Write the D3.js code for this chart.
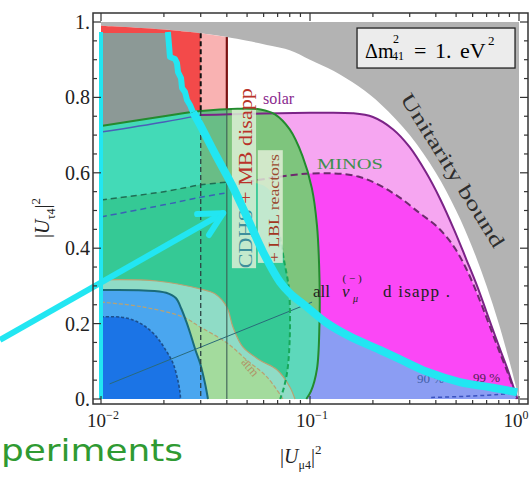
<!DOCTYPE html>
<html>
<head>
<meta charset="utf-8">
<script src="https://cdn.jsdelivr.net/npm/d3@7/dist/d3.min.js"></script>
<style>
  html,body{margin:0;padding:0;background:#fff;}
  svg{display:block;}
  text{font-family:"Liberation Serif","Times New Roman",serif;}
  text.caption{font-family:"DejaVu Sans",sans-serif;}
</style>
</head>
<body>
<svg id="chart" width="531" height="477"></svg>
<script>
// ---------- data: points are [|U_mu4|^2, |U_tau4|^2] ----------
const unitarityBound = [[0.01,0.99],[0.02,0.98],[0.03,0.97],[0.04,0.96],[0.05,0.95],[0.065,0.937],[0.08,0.925],[0.1,0.9],[0.13,0.87],[0.17,0.83],[0.22,0.78],[0.3,0.7],[0.4,0.6],[0.5,0.5],[0.6,0.4],[0.7,0.3],[0.8,0.2],[0.9,0.1],[0.95,0.05],[1,0]];
const greenEdge = [[0.01,0.724],[0.02,0.75],[0.03,0.764],[0.045,0.77],[0.058,0.768],[0.068,0.755],[0.08,0.715],[0.092,0.645],[0.102,0.56],[0.108,0.46],[0.111,0.32],[0.111,0.2],[0.108,0.08],[0.101,0.02],[0.096,0]];
const solarLeft = [[0.01,0.708],[0.02,0.735],[0.03,0.753]];
const solar = [[0.03,0.753],[0.1,0.759],[0.16,0.758],[0.2,0.748],[0.25,0.715],[0.3,0.668],[0.36,0.6],[0.42,0.53],[0.49,0.448],[0.56,0.37],[0.63,0.3],[0.7,0.23],[0.76,0.175],[0.82,0.125],[0.88,0.08],[0.93,0.04],[0.97,0.01],[0.985,0]];
const minos = [[0.05,0.576],[0.1,0.598],[0.17,0.59],[0.25,0.546],[0.335,0.493],[0.4,0.46],[0.45,0.43],[0.5,0.395],[0.56,0.345],[0.63,0.28],[0.7,0.215],[0.76,0.163],[0.82,0.115],[0.88,0.072],[0.93,0.035],[0.96,0.01],[0.975,0]];
const dashGreenLeft = [[0.01,0.528],[0.02,0.55],[0.03,0.568],[0.04,0.575]];
const dashBlueLeft = [[0.01,0.483],[0.02,0.515],[0.03,0.535],[0.039,0.546]];
const tealUpperRight = [[0.05,0.576],[0.06,0.566],[0.067,0.54],[0.071,0.49],[0.072,0.43]];
const dashGreenRight = [[0.072,0.43],[0.075,0.37],[0.079,0.3],[0.08,0.255],[0.08,0.16],[0.078,0.077],[0.075,0.03],[0.072,0]];
const atmUpper = [[0.01,0.316],[0.0185,0.313],[0.0298,0.292],[0.0351,0.279],[0.04,0.244],[0.0428,0.191],[0.0477,0.138],[0.0576,0.103],[0.0697,0.077],[0.0801,0.032],[0.0847,0]];
const atmLower = [[0.01,0.257],[0.0155,0.245],[0.0246,0.218],[0.0298,0.191],[0.04,0.149],[0.0499,0.103],[0.0623,0.058],[0.0743,0]];
const blue99 = [[0.01,0.289],[0.016,0.288],[0.0205,0.282],[0.0228,0.268],[0.0242,0.24],[0.0256,0.205],[0.0267,0.175],[0.0283,0.13],[0.0298,0.095],[0.0315,0.04],[0.0325,0]];
const blue90 = [[0.01,0.218],[0.0125,0.217],[0.0145,0.208],[0.0165,0.19],[0.0185,0.164],[0.0205,0.128],[0.0221,0.095],[0.0232,0.055],[0.0239,0.016],[0.024,0]];
const appJagged = [[0.0209,0.9735],[0.02115,0.939],[0.02138,0.907],[0.0226,0.902],[0.0231,0.891],[0.02336,0.867],[0.02415,0.851],[0.02442,0.825],[0.02524,0.814],[0.0258,0.793],[0.02665,0.78],[0.02756,0.761]];
const appCurve = [[0.02756,0.761],[0.0298,0.727],[0.0358,0.642],[0.0428,0.562],[0.0499,0.483],[0.0596,0.39],[0.0719,0.31],[0.08,0.281],[0.0966,0.244],[0.12,0.202],[0.155,0.166],[0.216,0.13],[0.27,0.105],[0.363,0.072],[0.521,0.045],[0.75,0.03],[0.98,0.018]];
const cdhsDashed = 0.03, cdhsSolid = 0.04;
const thinDiagonal = [[0.011,0.04],[0.1023,0.257]];
const cl90Bottom = [[0.38,0.004],[0.6,0.008],[0.8,0.012],[0.95,0.016]];
const arrowFrom = [0.003286,0.1565], arrowTo = [0.0384,0.493];

const yMajor = [0,0.2,0.4,0.6,0.8,1];
const yTickLabels = ["0.","0.2","0.4","0.6","0.8","1."];
const yMinor = [0.05,0.1,0.15,0.25,0.3,0.35,0.45,0.5,0.55,0.65,0.7,0.75,0.85,0.9,0.95];
const xMajor = [0.01,0.1,1];
const xTickLabels = [["10","\u22122"],["10","\u22121"],["10","0"]];
const xMinor = [0.02,0.03,0.04,0.05,0.06,0.07,0.08,0.09,0.2,0.3,0.4,0.5,0.6,0.7,0.8,0.9];

// ---------- scales ----------
const svg = d3.select("#chart");
const x = d3.scaleLog().domain([0.01,1]).range([101,519]);
const y = d3.scaleLinear().domain([0,1]).range([399,22]);
const CR = d3.curveCatmullRom;

function shape(parts){
  let d = "";
  parts.forEach((p,i)=>{
    const gen = d3.line().x(q=>x(q[0])).y(q=>y(q[1])).curve(p.c || d3.curveLinear);
    let s = gen(p.pts).replace(/Z$/,"");
    if (i>0) s = "L" + s.slice(1);
    d += s;
  });
  return d + "Z";
}
function area(parts, fill, op){
  svg.append("path").attr("d", shape(parts)).attr("fill", fill).attr("opacity", op==null?1:op);
}
function line(pts, stroke, w, dash, curve){
  svg.append("path")
    .attr("d", d3.line().x(q=>x(q[0])).y(q=>y(q[1])).curve(curve||d3.curveLinear)(pts))
    .attr("fill","none").attr("stroke",stroke).attr("stroke-width",w)
    .attr("stroke-dasharray",dash||null).attr("stroke-linejoin","round").attr("stroke-linecap","butt");
}
const rev = a => a.slice().reverse();

// ---------- filled regions ----------
// unitarity-excluded corner
area([{pts:[[0.01,1],[1,1]]},{pts:rev(unitarityBound),c:CR}], "#b3b3b3");
// solar and MINOS / all numu disappearance
area([{pts:solar,c:CR},{pts:[[0.03,0]]}], "#f6a6f1");
area([{pts:minos,c:CR},{pts:[[0.05,0]]}], "#fb47f6");
const appRight = appCurve.filter(p=>p[0]>=0.0966);
area([{pts:appRight,c:CR},{pts:[[0.98,0],[0.0966,0]]}], "#8b9df3");
// CDHS + MB disappearance strip
area([{pts:unitarityBound.slice(0,3),c:CR},{pts:[[0.03,0.764],[0.02,0.75],[0.01,0.724]]}], "#f34a4a");
area([{pts:unitarityBound.slice(2,4)},{pts:[[0.04,0.77],[0.03,0.764]]}], "#f9b2b2");
area([{pts:[[0.01,0.971],[0.0209,0.971]]},{pts:appJagged.slice(1)},{pts:[[0.02,0.75],[0.01,0.724]]}], "#8c9996");
// global fit regions
area([{pts:greenEdge,c:CR},{pts:[[0.01,0]]}], "#7ec57d");
area([{pts:[[0.03,0.764],[0.04,0.77],[0.04,0.575],[0.03,0.568]]}], "#69bd86");
area([{pts:greenEdge.slice(0,3),c:CR},{pts:rev(dashGreenLeft.slice(0,3)),c:CR}], "#43dab7");
area([{pts:dashGreenLeft,c:CR},{pts:tealUpperRight,c:CR},{pts:dashGreenRight.slice(1),c:CR},{pts:[[0.01,0]]}], "#35c995");
area([{pts:[[0.0775,0.29],[0.08,0.281],[0.0966,0.244],[0.111,0.22],[0.111,0.2],[0.108,0.08],[0.101,0.02],[0.096,0],[0.072,0],[0.075,0.03],[0.078,0.077],[0.08,0.16],[0.08,0.255]]}], "#5dd8bb");
// atmospheric regions
area([{pts:atmUpper,c:CR},{pts:[[0.01,0]]}], "#8fdcc6");
area([{pts:atmLower,c:CR},{pts:[[0.01,0]]}], "#a3db9d");
area([{pts:blue99,c:CR},{pts:[[0.01,0]]}], "#4aa6ef");
area([{pts:blue90,c:CR},{pts:[[0.01,0]]}], "#1b74e6");

// ---------- contour lines ----------
line(atmUpper, "#b9a272", 1.2, null, CR);
line(atmLower, "#b9a272", 1.2, "4,2", CR);
line(blue99, "#1b6b79", 2, null, CR);
line(blue90, "#1d4f8c", 1.6, "3,2", CR);
line(thinDiagonal, "#2a6a7a", 1);
line(dashGreenLeft, "#1f6e55", 1.5, "6,4", CR);
line(dashBlueLeft, "#3a62b5", 1.5, "6,4", CR);
line(dashGreenRight, "#17a85a", 2, "5,3", CR);
line(solarLeft, "#4a5fb8", 1.5, null, CR);
line(solar, "#7b2387", 2, null, CR);
line(minos, "#6e2a6e", 2, "7,4", CR);
line(greenEdge, "#238b2e", 2, null, CR);
line(cl90Bottom, "#3a52c0", 1.5, "4,3", CR);
line([[cdhsDashed,0.97],[cdhsDashed,0.764]], "#111", 2, "5,3");
line([[cdhsDashed,0.764],[cdhsDashed,0]], "#2c4444", 1.3, "5,3");
line([[cdhsSolid,0.96],[cdhsSolid,0.77]], "#7a1212", 2.2);
line([[cdhsSolid,0.77],[cdhsSolid,0]], "#3d5d55", 1.1);

// ---------- in-plot labels ----------
function rotLabel(u, v, angle, parts, size, anchor, extra){
  const t = svg.append("text")
    .attr("transform", `translate(${x(u)},${y(v)}) rotate(${angle})`)
    .attr("font-size", size).attr("text-anchor", anchor||"start");
  if (extra) extra(t);
  parts.forEach(p=>t.append("tspan").attr("fill",p[1]).text(p[0]));
  return t;
}
// text boxes behind the rotated labels
svg.append("rect").attr("x",x(0.0423)).attr("y",y(0.767)).attr("width",x(0.0552)-x(0.0423)).attr("height",y(0.347)-y(0.767)).attr("fill","#dcefd6").attr("opacity",0.85);
svg.append("rect").attr("x",x(0.0563)).attr("y",y(0.66)).attr("width",x(0.0741)-x(0.0563)).attr("height",y(0.361)-y(0.66)).attr("fill","#e6f0dc").attr("opacity",0.8);
rotLabel(0.0528, 0.347, -90, [["CDHS","#3f8f9c"],["  + MB disapp","#b9332a"]], 18, "start", t=>t.attr("textLength",180).attr("lengthAdjust","spacingAndGlyphs"));
rotLabel(0.0711, 0.363, -90, [["+ LBL  ","#a1361f"],["reactors","#9a4a30"]], 14, "start", t=>t.attr("textLength",108).attr("lengthAdjust","spacingAndGlyphs"));
rotLabel(0.0596, 0.782, 0, [["solar","#8a2a8e"]], 16);
rotLabel(0.108, 0.61, 0, [["MINOS","#3f8f4f"]], 15, "start", t=>t.attr("textLength",66).attr("lengthAdjust","spacingAndGlyphs"));
rotLabel(0.0499, 0.077, 50, [["atm","#b09468"]], 13, "middle");
rotLabel(0.483, 0.607, 58, [["Unitarity bound","#2e2e2e"]], 20, "middle", t=>t.attr("dominant-baseline","central").attr("textLength",178).attr("lengthAdjust","spacingAndGlyphs"));
rotLabel(0.325, 0.042, 0, [["90 %","#3f5fa8"]], 13);
rotLabel(0.602, 0.045, 0, [["99 %","#502050"]], 13);

// all (anti)numu disappearance label
const g = svg.append("g").attr("transform",`translate(${x(0.1034)},${y(0.2706)})`).attr("fill","#222");
g.append("text").attr("x",0).attr("y",0).attr("font-size",17).text("all");
g.append("text").attr("x",29).attr("y",0).attr("font-size",17).attr("font-style","italic").text("\u03bd");
g.append("text").attr("x",39).attr("y",-15).attr("font-size",11).attr("text-anchor","middle").text("( \u2212 )");
g.append("text").attr("x",40).attr("y",5).attr("font-size",10).attr("font-style","italic").text("\u03bc");
g.append("text").attr("x",70).attr("y",0).attr("font-size",17).attr("textLength",67).attr("lengthAdjust","spacing").text("d isapp .");

// mass splitting box
const bx = svg.append("g").attr("transform",`translate(${x(0.1679)},${y(0.984)})`);
bx.append("rect").attr("width",158).attr("height",40).attr("fill","#ececec").attr("stroke","#222").attr("stroke-width",1.3);
bx.append("text").attr("x",8).attr("y",30).attr("font-size",20).text("\u0394m");
bx.append("text").attr("x",36).attr("y",15).attr("font-size",12).text("2");
bx.append("text").attr("x",35).attr("y",32).attr("font-size",12).text("41");
bx.append("text").attr("x",57).attr("y",30).attr("font-size",22).text("=");
bx.append("text").attr("x",78).attr("y",30).attr("font-size",22).text("1.");
bx.append("text").attr("x",103).attr("y",30).attr("font-size",22).text("eV");
bx.append("text").attr("x",131).attr("y",17).attr("font-size",13).text("2");

// ---------- appearance annotation (cyan) ----------
const cyan = "#22e6f2";
line([[0.01,0.9735],[0.01,0.0]], cyan, 4);
line(appJagged, cyan, 6, null, d3.curveLinear);
line(appCurve, cyan, 8, null, CR);
const ax0 = x(arrowFrom[0]), ay0 = y(arrowFrom[1]), ax1 = x(arrowTo[0]), ay1 = y(arrowTo[1]);
svg.append("line").attr("x1",ax0).attr("y1",ay0).attr("x2",ax1).attr("y2",ay1).attr("stroke",cyan).attr("stroke-width",6);
const ang = Math.atan2(ay0-ay1, ax0-ax1), wl = 26, spread = 0.48;
[ang+spread, ang-spread].forEach(a=>{
  svg.append("line").attr("x1",ax1).attr("y1",ay1)
    .attr("x2",ax1+wl*Math.cos(a)).attr("y2",ay1+wl*Math.sin(a))
    .attr("stroke",cyan).attr("stroke-width",6).attr("stroke-linecap","round");
});

// ---------- frame, ticks, labels ----------
const L = x(0.01)-8, R = x(1)+9, T = y(1)-9, B = y(0)+5;
svg.append("rect").attr("x",L).attr("y",T).attr("width",R-L).attr("height",B-T).attr("fill","none").attr("stroke","#333").attr("stroke-width",1.5);
const tk = svg.append("g").attr("stroke","#333").attr("stroke-width",1.2);
yMajor.forEach(v=>{ tk.append("line").attr("x1",L).attr("x2",L+8).attr("y1",y(v)).attr("y2",y(v));
                     tk.append("line").attr("x1",R).attr("x2",R-8).attr("y1",y(v)).attr("y2",y(v)); });
yMinor.forEach(v=>{ tk.append("line").attr("x1",L).attr("x2",L+4).attr("y1",y(v)).attr("y2",y(v));
                     tk.append("line").attr("x1",R).attr("x2",R-4).attr("y1",y(v)).attr("y2",y(v)); });
xMajor.forEach(u=>{ tk.append("line").attr("x1",x(u)).attr("x2",x(u)).attr("y1",B).attr("y2",B-8);
                     tk.append("line").attr("x1",x(u)).attr("x2",x(u)).attr("y1",T).attr("y2",T+8); });
xMinor.forEach(u=>{ tk.append("line").attr("x1",x(u)).attr("x2",x(u)).attr("y1",B).attr("y2",B-4);
                     tk.append("line").attr("x1",x(u)).attr("x2",x(u)).attr("y1",T).attr("y2",T+4); });
yMajor.forEach((v,i)=>{
  svg.append("text").attr("x",L-3).attr("y",y(v)+7).attr("text-anchor","end").attr("font-size",20).attr("fill","#222").text(yTickLabels[i]);
});
xMajor.forEach((u,i)=>{
  const shift = i===2 ? -3 : 2;
  const t = svg.append("text").attr("x",x(u)+shift).attr("y",B+23).attr("text-anchor","middle").attr("font-size",19).attr("fill","#222");
  t.append("tspan").text(xTickLabels[i][0]);
  t.append("tspan").attr("font-size",12).attr("dy",-8).text(xTickLabels[i][1]);
});
// axis titles
const xt = svg.append("text").attr("x",x(0.1)-30).attr("y",463).attr("font-size",20).attr("fill","#222");
xt.append("tspan").text("|");
xt.append("tspan").attr("font-style","italic").text("U");
xt.append("tspan").attr("font-size",12).attr("dy",6).text("\u03bc4");
xt.append("tspan").attr("dy",-6).text("|");
xt.append("tspan").attr("font-size",13).attr("dy",-9).text("2");
const yt = svg.append("text").attr("transform","translate(49,218) rotate(-90)").attr("text-anchor","middle").attr("font-size",20).attr("fill","#222");
yt.append("tspan").text("|");
yt.append("tspan").attr("font-style","italic").text("U");
yt.append("tspan").attr("font-size",12).attr("dy",6).text("\u03c44");
yt.append("tspan").attr("dy",-6).text("|");
yt.append("tspan").attr("font-size",13).attr("dy",-9).text("2");

// caption fragment below the plot
svg.append("text").attr("class","caption").attr("x",1).attr("y",461).attr("font-size",31)
  .attr("fill","#2f9a32").attr("textLength",182).attr("lengthAdjust","spacingAndGlyphs").text("periments");
</script>
</body>
</html>
